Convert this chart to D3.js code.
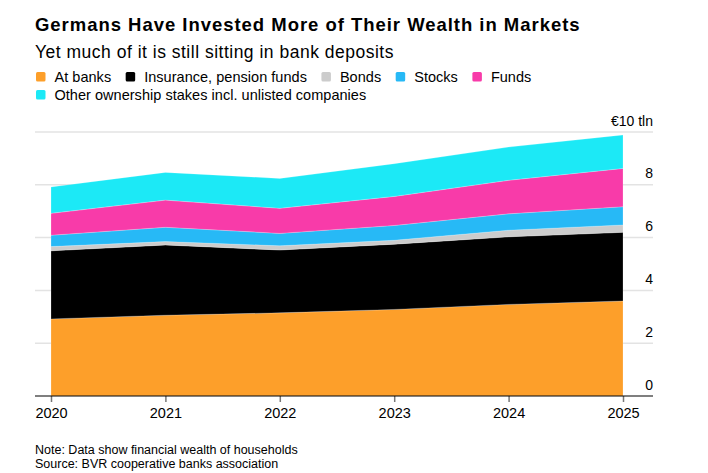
<!DOCTYPE html>
<html>
<head>
<meta charset="utf-8">
<script src="https://cdn.jsdelivr.net/npm/d3@7"></script>
<style>
  body { margin: 0; background: #fff; }
  svg { font-family: 'Liberation Sans', Arial, sans-serif; }
</style>
</head>
<body>
<div id="grafica"></div>
<script>
// datos (billones de euros)
anios = [2020, 2021, 2022, 2023, 2024, 2025]
bancos = [2.92, 3.06, 3.15, 3.28, 3.47, 3.60]
seguros = [2.58, 2.66, 2.38, 2.47, 2.56, 2.60]
bonos = [0.16, 0.13, 0.16, 0.15, 0.25, 0.28]
acciones = [0.43, 0.54, 0.47, 0.56, 0.62, 0.69]
fondos = [0.83, 1.03, 0.95, 1.10, 1.27, 1.45]
otros = [1.00, 1.05, 1.13, 1.24, 1.26, 1.27]
series = ['At banks', 'Insurance, pension funds', 'Bonds', 'Stocks', 'Funds',
  'Other ownership stakes incl. unlisted companies']
yTicks = [0, 2, 4, 6, 8, 10]

colores = {
  'At banks': '#fd9f2a',
  'Insurance, pension funds': '#000000',
  'Bonds': '#cccccc',
  'Stocks': '#27b9f6',
  'Funds': '#f83ba9',
  'Other ownership stakes incl. unlisted companies': '#1ce9f6'
}

function graficar() {
  var W = 708, H = 473
  var svg = d3.select('#grafica').append('svg')
    .attr('width', W).attr('height', H)

  // tabla para el stack
  var valores = [bancos, seguros, bonos, acciones, fondos, otros]
  var tabla = anios.map(function (a, i) {
    var fila = { anio: a }
    series.forEach(function (s, j) { fila[s] = valores[j][i] })
    return fila
  })

  var x = d3.scaleLinear().domain([2020, 2025]).range([51, 623])
  var y = d3.scaleLinear().domain([0, 10]).range([396, 132])
  var gridLeft = 35, gridRight = 653

  // titulo
  svg.append('text').attr('x', 35).attr('y', 30.5)
    .style('font-size', '18.5px').style('font-weight', 'bold').style('fill', '#000')
    .style('letter-spacing', '0.97px')
    .text('Germans Have Invested More of Their Wealth in Markets')
  svg.append('text').attr('x', 35).attr('y', 57.5)
    .style('font-size', '17.5px').style('fill', '#000')
    .style('letter-spacing', '0.5px')
    .text('Yet much of it is still sitting in bank deposits')

  // leyenda
  var lx = 36, ly = 81.5
  series.forEach(function (s, i) {
    if (i == 5) { lx = 36; ly = 99.5 }
    svg.append('rect').attr('x', lx).attr('y', ly - 9.5)
      .attr('width', 9.5).attr('height', 9.5).attr('rx', 1.5)
      .style('fill', colores[s])
    var t = svg.append('text').attr('x', lx + 18.5).attr('y', ly)
      .style('font-size', '14.5px').style('fill', '#000')
      .style('letter-spacing', '0.03px').text(s)
    lx = lx + 18.5 + t.node().getComputedTextLength() + 14.5
  })

  // grilla
  svg.selectAll('line.grid')
    .data(yTicks.filter(function (d) { return d > 0 }))
    .enter().append('line').attr('class', 'grid')
    .attr('x1', gridLeft).attr('x2', gridRight)
    .attr('y1', function (d) { return y(d) }).attr('y2', function (d) { return y(d) })
    .style('stroke', '#e3e3e3').style('stroke-width', 1.5)

  // areas apiladas
  var stack = d3.stack().keys(series)
  var capas = stack(tabla)
  var area = d3.area()
    .x(function (d) { return x(d.data.anio) })
    .y0(function (d) { return y(d[0]) })
    .y1(function (d) { return y(d[1]) })

  svg.selectAll('path.capa')
    .data(capas)
    .enter().append('path').attr('class', 'capa')
    .attr('d', area)
    .style('fill', function (d) { return colores[d.key] })
    .style('stroke', '#ffffff').style('stroke-opacity', 0.35).style('stroke-width', 0.6)

  // etiquetas eje y
  svg.selectAll('text.ytick')
    .data(yTicks)
    .enter().append('text').attr('class', 'ytick')
    .attr('x', gridRight).attr('y', function (d) { return y(d) - 6.5 })
    .attr('text-anchor', 'end')
    .style('font-size', '14px').style('fill', '#000')
    .text(function (d) { return d == 10 ? '€10 tln' : d })

  // eje x
  var ejeX = svg.append('g').attr('transform', 'translate(0,' + y(0) + ')')
    .call(d3.axisBottom(x).tickValues(anios).tickFormat(d3.format('d')).tickSize(6).tickPadding(6))
  ejeX.select('.domain').remove()
  ejeX.selectAll('.tick line').style('stroke', '#777').style('stroke-width', 1.5)
  ejeX.selectAll('.tick text').style('font-size', '14.5px').style('fill', '#000')
    .style('font-family', "'Liberation Sans', Arial, sans-serif")
  svg.append('line').attr('x1', gridLeft).attr('x2', gridRight)
    .attr('y1', y(0)).attr('y2', y(0))
    .style('stroke', '#000').style('stroke-width', 1.2)

  // notas
  svg.append('text').attr('x', 35).attr('y', 453.5)
    .style('font-size', '12.5px').style('fill', '#000')
    .text('Note: Data show financial wealth of households')
  svg.append('text').attr('x', 35).attr('y', 467.5)
    .style('font-size', '12.5px').style('fill', '#000')
    .text('Source: BVR cooperative banks association')
}

graficar()
</script>
</body>
</html>
